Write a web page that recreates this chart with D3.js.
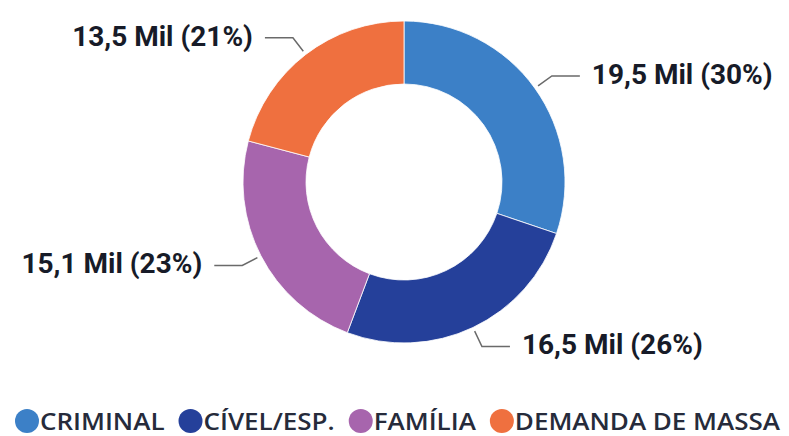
<!DOCTYPE html>
<html>
<head>
<meta charset="utf-8">
<script src="https://cdn.jsdelivr.net/npm/d3@7"></script>
<style>
  html, body { margin: 0; padding: 0; background: #fff; }
  svg { display: block; }
</style>
</head>
<body>
<div id="chart"></div>
<script>
// data
var categories = ["CRIMINAL", "CÍVEL/ESP.", "FAMÍLIA", "DEMANDA DE MASSA"];
var values = [19.5, 16.5, 15.1, 13.5];          // mil
var valueLabels = ["19,5", "16,5", "15,1", "13,5"];
var percents = [30, 26, 23, 21];
var colors = ["#3c80c7", "#25409a", "#a765ad", "#ef703f"];

var width = 789, height = 436,
    cx = 404, cy = 182,
    outerR = 161, innerR = 98;

var svg = d3.select("#chart")
    .append("svg")
    .attr("width", width)
    .attr("height", height);

var g = svg.append("g").attr("transform", "translate(" + cx + "," + cy + ")");

var slices = categories.map(function(c, i) {
    return { name: c, value: values[i], label: valueLabels[i], pct: percents[i], color: colors[i] };
});

var pie = d3.pie().sort(null).value(function(d) { return d.value; });
var arcs = pie(slices);

var arc = d3.arc().innerRadius(innerR).outerRadius(outerR);
var startArc = d3.arc().innerRadius(165).outerRadius(165);
var elbowArc = d3.arc().innerRadius(182).outerRadius(182);

g.selectAll("path.slice")
    .data(arcs)
    .enter().append("path")
    .attr("class", "slice")
    .attr("d", arc)
    .attr("fill", function(d) { return d.data.color; })
    .attr("stroke", "#fff")
    .attr("stroke-width", 0.8);

var hLen = 28, gap = 12;

function side(d) {
    var mid = (d.startAngle + d.endAngle) / 2;
    return mid < Math.PI ? 1 : -1;
}

// leader lines
g.selectAll("polyline.leader")
    .data(arcs)
    .enter().append("polyline")
    .attr("class", "leader")
    .attr("fill", "none")
    .attr("stroke", "#6a6a6a")
    .attr("stroke-width", 1.5)
    .attr("points", function(d) {
        var a = startArc.centroid(d), b = elbowArc.centroid(d);
        var c = [b[0] + side(d) * hLen, b[1]];
        return [a, b, c].map(function(p) { return p.join(","); }).join(" ");
    });

// value labels
g.selectAll("text.val")
    .data(arcs)
    .enter().append("text")
    .attr("class", "val")
    .attr("x", function(d) { return elbowArc.centroid(d)[0] + side(d) * (hLen + gap); })
    .attr("y", function(d) { return elbowArc.centroid(d)[1] - 2; })
    .attr("dy", "0.35em")
    .attr("text-anchor", function(d) { return side(d) > 0 ? "start" : "end"; })
    .style("font-family", "Roboto, sans-serif")
    .style("font-weight", "bold")
    .style("font-size", "28px")
    .style("fill", "#171b28")
    .text(function(d) { return d.data.label + " Mil (" + d.data.pct + "%)"; });

// legend: laid out left to right, squeezed to span the chart width
var legend = svg.append("g").attr("class", "legend");
var ly = 421, r = 12, itemGap = 14, left = 15, right = 780;
var items = slices.map(function(d) {
    var item = legend.append("g");
    item.append("circle")
        .attr("cy", ly)
        .attr("r", r)
        .attr("fill", d.color);
    var t = item.append("text")
        .attr("y", ly)
        .attr("dy", "0.36em")
        .style("font-family", "'Open Sans', sans-serif")
        .style("font-size", "24px")
        .style("font-weight", 600)
        .style("fill", "#262b3b")
        .text(d.name);
    return { item: item, text: t, w: t.node().getComputedTextLength() };
});
var fixed = items.length * (2 * r + 1) + (items.length - 1) * itemGap;
var natural = d3.sum(items, function(d) { return d.w; });
var k = (right - left - fixed) / natural;
var lx = left;
items.forEach(function(d) {
    d.item.select("circle").attr("cx", lx + r);
    d.text.attr("x", lx + 2 * r + 1)
        .attr("textLength", d.w * k)
        .attr("lengthAdjust", "spacingAndGlyphs");
    lx = lx + 2 * r + 1 + d.w * k + itemGap;
});
</script>
</body>
</html>
